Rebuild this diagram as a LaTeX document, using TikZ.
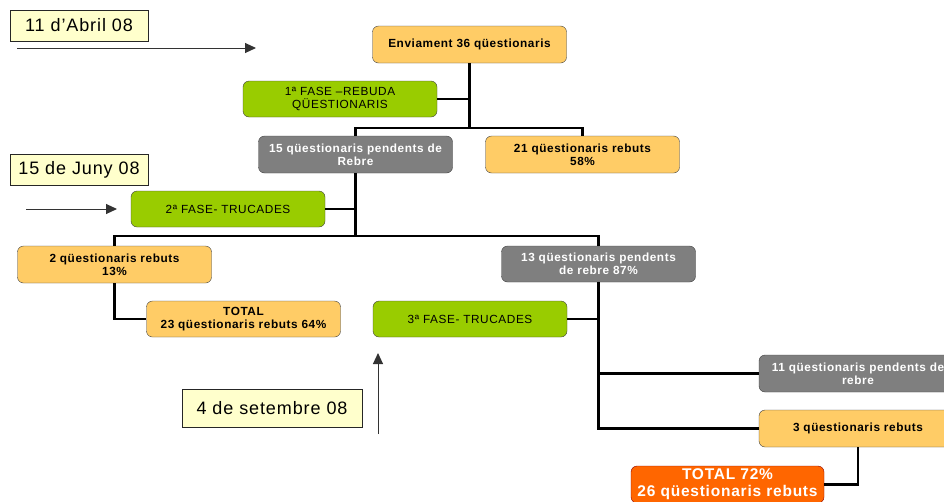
\documentclass[tikz,border=0pt]{standalone}
\usepackage{fontspec}
\setmainfont{Liberation Sans}[LetterSpace=5]
\usetikzlibrary{calc}
\usetikzlibrary{arrows.meta}

\begin{document}
\begin{tikzpicture}[x=1pt,y=-1pt]
  %--------------------------------------------
  % Cores e tamanhos dos blocos
  %--------------------------------------------
  \definecolor{ouro}{HTML}{FFCC66}     % blocos de questionarios rebuts
  \definecolor{verde}{HTML}{99CC00}    % blocos de fase
  \definecolor{cinza}{HTML}{7F7F7F}    % blocos de pendents
  \definecolor{laranja}{HTML}{FF6600}  % total final
  \definecolor{creme}{HTML}{FFFFCC}    % rotulos de data
  \def\szh{37pt}    % altura minima de cada bloco
  \def\szw{194pt}   % largura minima de cada bloco

  %--------------------------------------------
  % Estilos
  %--------------------------------------------
  \tikzstyle{bloco} = [
    draw=black!75, rectangle, rounded corners=6pt, align=center, inner sep=1pt,
    minimum height=\szh, minimum width=\szw,
    font=\bfseries\fontsize{11.8}{12.7}\selectfont
  ]
  \tikzstyle{blocoouro} = [bloco, fill=ouro]
  \tikzstyle{blococinza} = [bloco, fill=cinza, text=white]
  \tikzstyle{blocoverde} = [bloco, fill=verde, minimum height=36pt,
    font=\fontsize{11.8}{12.7}\selectfont]
  \tikzstyle{data} = [draw=black!85, fill=creme, minimum height=31pt,
    font=\fontsize{18}{20}\selectfont]
  \tikzstyle{tronco} = [line width=2.6pt, black]
  \tikzstyle{seta} = [line width=1pt, black!80, -{Triangle[length=11pt,width=10pt]}]

  % margens da figura
  \clip (0,0) rectangle (944,501);

  %--------------------------------------------
  % Rotulos de data
  %--------------------------------------------
  \node[data, minimum width=138pt] (d1) at (79,25.5) {11 d’Abril 08};
  \node[data, minimum width=138pt] (d2) at (79,169.5) {15 de Juny 08};
  \node[data, minimum width=180pt, minimum height=38pt] (d3) at (272,408) {4 de setembre 08};

  %--------------------------------------------
  % Blocos do esquema
  %--------------------------------------------
  \node[blocoouro] (envio) at (469.5,44.5) {Enviament 36 qüestionaris};
  \node[blocoverde] (fase1) at (340,99) {1ª FASE –REBUDA\\QÜESTIONARIS};
  \node[blococinza] (pend15) at (355.5,154.5) {15 qüestionaris pendents de\\Rebre};
  \node[blocoouro] (reb21) at (582.5,154.5) {21 qüestionaris rebuts\\58\%};
  \node[blocoverde] (fase2) at (228,209) {2ª FASE- TRUCADES};
  \node[blocoouro] (reb2) at (114.5,264.5) {2 qüestionaris rebuts\\13\%};
  \node[blocoouro, minimum height=36pt] (tot23) at (243.5,319) {TOTAL\\23 qüestionaris rebuts 64\%};
  \node[blococinza, minimum height=36pt] (pend13) at (598.5,264) {13 qüestionaris pendents\\de rebre 87\%};
  \node[blocoverde] (fase3) at (470,319) {3ª FASE- TRUCADES};
  \node[blococinza, minimum width=198pt] (pend11) at (858,373.5) {11 qüestionaris pendents de\\rebre};
  \node[blocoouro, minimum width=198pt] (reb3) at (858,428.5) {3 qüestionaris rebuts};
  \node[bloco, fill=laranja, draw=red!55!black, text=white, minimum width=193pt,
    font=\bfseries\fontsize{15.5}{17.3}\selectfont] (tot26) at (727.5,484.5)
    {TOTAL 72\%\\26 qüestionaris rebuts};

  %--------------------------------------------
  % Ligacoes entre os blocos
  %--------------------------------------------
  \coordinate (j1) at (469.5,128);
  \coordinate (j2) at (355.5,236);
  \draw[tronco] (envio.south) -- (j1);
  \draw[tronco] (fase1.east) -- (fase1.east -| j1);
  \draw[tronco] (pend15.north) |- (j1) -| (reb21.north);
  \draw[tronco] (pend15.south) -- (j2);
  \draw[tronco] (fase2.east) -- (fase2.east -| j2);
  \draw[tronco] (reb2.north) |- (j2) -| (pend13.north);
  \draw[tronco] (reb2.south) |- (tot23.west);
  \draw[tronco] (pend13.south) |- (pend11.west);
  \draw[tronco] (pend13.south) |- (reb3.west);
  \draw[tronco] (fase3.east) -- (fase3.east -| pend13.south);
  \draw[tronco] (reb3.south) |- (tot26.east);

  %--------------------------------------------
  % Setas das datas
  %--------------------------------------------
  \coordinate (s1a) at (17,48);   \coordinate (s1b) at (256,48);
  \coordinate (s2a) at (26,209);  \coordinate (s2b) at (117,209);
  \coordinate (s3a) at (378,434); \coordinate (s3b) at (378,353);
  \draw[seta] (s1a) -- (s1b);
  \draw[seta] (s2a) -- (s2b);
  \draw[seta] (s3a) -- (s3b);
\end{tikzpicture}
\end{document}
